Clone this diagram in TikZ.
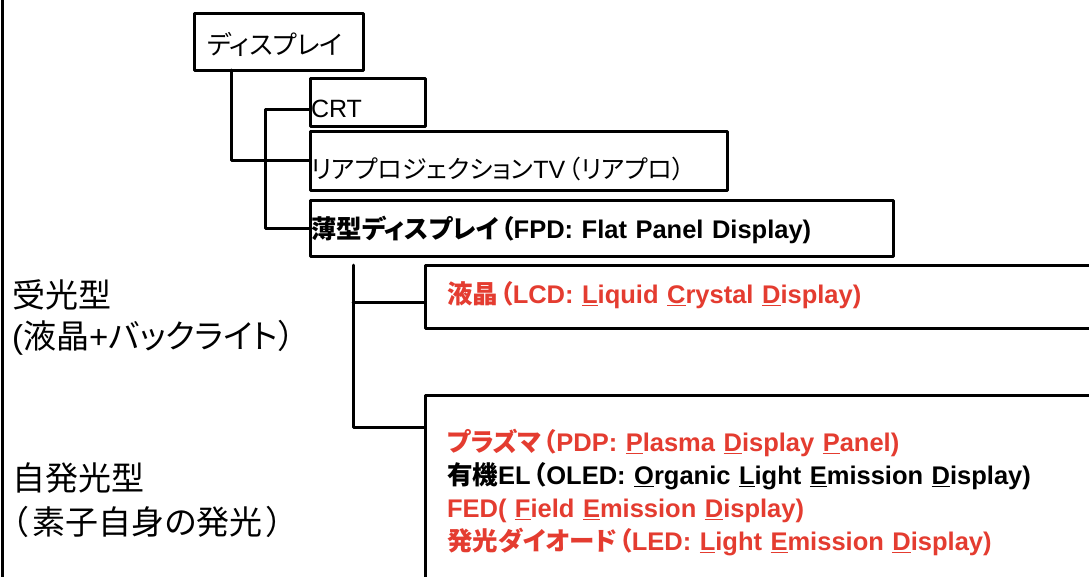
\documentclass[tikz,border=0pt]{standalone}
\usepackage{fontspec}
\setmainfont{Liberation Sans}
\newfontfamily\jp[RawFeature=+palt]{Noto Sans CJK JP}
\usepackage{xcolor}
\definecolor{lred}{RGB}{228,60,48}
\newcommand\ul[1]{\setbox0\hbox{#1}\rlap{\rule[-3pt]{\wd0}{0.8pt}}\box0}
\tikzset{
  every picture/.style={line join=round, line cap=round},
  box/.style={draw, line width=3pt, inner ysep=0pt, outer sep=0pt, anchor=base west, align=left, font=\fontsize{25}{33}\selectfont},
  boldbox/.style={box, font=\fontsize{25.5}{33}\selectfont\bfseries},
  link/.style={line width=3pt},
  side/.style={anchor=base west, inner sep=0pt, align=left, text width=330pt, font=\fontsize{33}{41}\selectfont},
}

\begin{document}
\begin{tikzpicture}[x=1pt,y=-1pt]
\useasboundingbox (0,0) rectangle (1089,576);
\fill[white] (0,0) rectangle (1089,576);
\clip (0,0) rectangle (1089,576);
\draw[link] (2,-5)--(2,590);
% tree of display types
\node[box, inner xsep=13pt, text width=143pt, text height=41pt, text depth=16pt, font=\fontsize{26}{33}\selectfont] (disp) at (194,54) {{\jp ディスプレイ}};
\node[box, inner xsep=1pt, text width=113pt, text height=39pt, text depth=9pt] (crt) at (310,117) {CRT};
\node[box, inner xsep=1pt, text width=415pt, text height=47pt, text depth=12pt] (rear) at (310,178) {{\jp リアプロジェクション}TV\kern3pt{\jp （リアプロ）}};
\node[boldbox, inner xsep=1pt, text width=581pt, text height=38pt, text depth=18pt] (fpd) at (310,238) {{\jp 薄型ディスプレイ\kern2pt（}FPD: Flat Panel Display)};
\node[boldbox, inner xsep=22pt, text width=646pt, text height=38pt, text depth=25pt, text=lred] (lcd) at (425,303) {{\jp 液晶\kern2pt（}LCD: \ul{L}iquid \ul{C}rystal \ul{D}isplay)};
\node[boldbox, inner xsep=22pt, text width=646pt, text height=56pt, text depth=200pt] (emit) at (425,451) {%
\textcolor{lred}{{\jp プラズマ\kern2pt（}PDP: \ul{P}lasma \ul{D}isplay \ul{P}anel)}\\
{\jp 有機}EL\kern3pt{\jp （}OLED: \ul{O}rganic \ul{L}ight \ul{E}mission \ul{D}isplay)\\
\textcolor{lred}{FED( \ul{F}ield \ul{E}mission \ul{D}isplay)}\\
\textcolor{lred}{{\jp 発光ダイオード\kern2pt（}LED: \ul{L}ight \ul{E}mission \ul{D}isplay)}};
% side labels
\node[side] (juko) at (12,307) {{\jp 受光型}\\({\jp 液晶}+{\jp バックライト）}};
\node[side] (jiko) at (12,490) {{\jp 自発光型}\\{\jp \kern3pt（\kern4pt 素子自身の発光\kern4pt ）}};
% connectors
\draw[link] ([xshift=37pt]disp.south west) |- (rear.west);
\draw[link] ([yshift=-7pt]crt.west) -- ++(-45,0) |- (fpd.west);
\coordinate (fpdtap) at ([shift={(43pt,-9pt)}]fpd.south west);
\coordinate (lcdin) at ([yshift=-6pt]lcd.west);
\draw[link] (fpdtap) |- ([yshift=-32pt]emit.north west);
\draw[link] (fpdtap |- lcdin) -- (lcdin);
\end{tikzpicture}
\end{document}
